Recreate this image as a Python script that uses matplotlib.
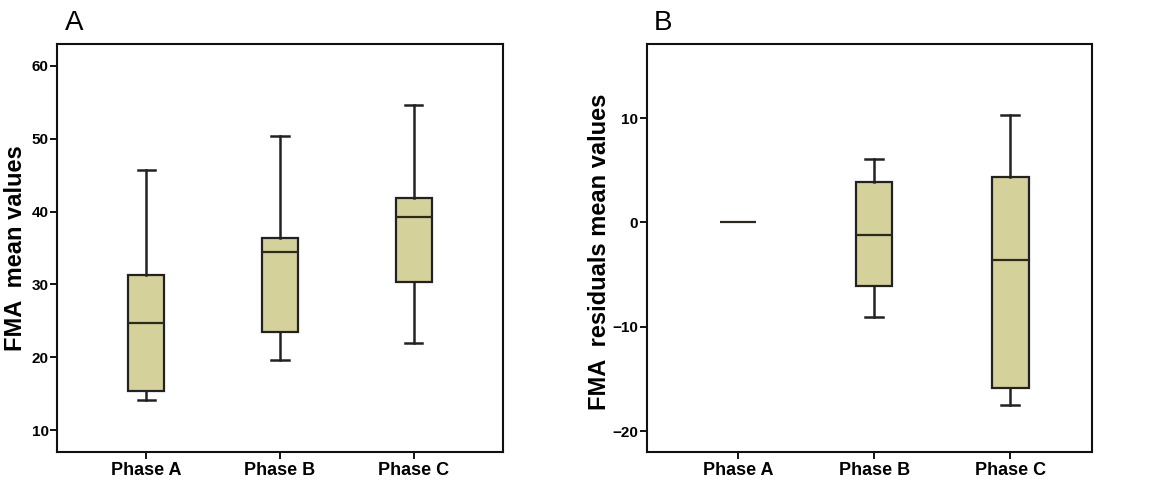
import matplotlib
matplotlib.use("Agg")
import matplotlib.pyplot as plt

plt.rcParams['font.family'] = ['Liberation Sans', 'DejaVu Sans']

phases = ['Phase A', 'Phase B', 'Phase C']

# panel A: FMA mean values (whislo, q1, med, q3, whishi)
fma_low = [14.1, 19.6, 21.9]
fma_q1 = [15.4, 23.5, 30.3]
fma_med = [24.65, 34.5, 39.2]
fma_q3 = [31.3, 36.4, 41.9]
fma_high = [45.7, 50.4, 54.6]

# panel B: FMA residuals mean values
res_low = [0.0, -9.1, -17.5]
res_q1 = [0.0, -6.1, -15.9]
res_med = [0.0, -1.2, -3.6]
res_q3 = [0.0, 3.85, 4.35]
res_high = [0.0, 6.05, 10.3]

box_col = '#d4d19b'
edge_col = '#222222'


def make_stats(lo, q1, med, q3, hi):
    stats = []
    for i in range(len(phases)):
        stats.append(dict(label=phases[i], whislo=lo[i], q1=q1[i], med=med[i],
                          q3=q3[i], whishi=hi[i], fliers=[]))
    return stats


def draw_panel(ax, stats):
    bp = ax.bxp(stats, positions=[1, 2, 3], widths=0.27, patch_artist=True,
                showfliers=False, capwidths=0.13,
                boxprops=dict(facecolor=box_col, edgecolor=edge_col, linewidth=1.6),
                whiskerprops=dict(color=edge_col, linewidth=1.8),
                capprops=dict(color=edge_col, linewidth=1.8),
                medianprops=dict(color='#2b2a1c', linewidth=1.6))
    for s in ax.spines.values():
        s.set_linewidth(1.5)
        s.set_color('#111111')
    ax.tick_params(axis='y', direction='out', length=5, width=1.3,
                   labelsize=11, pad=1)
    ax.tick_params(axis='x', direction='out', length=5, width=1.3,
                   labelsize=13, pad=2)
    return bp


def bold_ticks(ax):
    for lab in ax.get_yticklabels() + ax.get_xticklabels():
        lab.set_fontweight('bold')


fig = plt.figure(figsize=(11.66, 4.8), dpi=100)

axA = fig.add_axes([0.0489, 0.0583, 0.3825, 0.85])
draw_panel(axA, make_stats(fma_low, fma_q1, fma_med, fma_q3, fma_high))
axA.set_ylim(7, 63)
axA.set_xlim(0.333, 3.667)
axA.set_yticks([10, 20, 30, 40, 50, 60])
axA.set_xticklabels(phases)
bold_ticks(axA)
axA.set_ylabel('FMA  mean values', fontsize=17, fontweight='bold')
axA.yaxis.set_label_coords(-0.067, 0.5)
fig.text(0.056, 0.925, 'A', fontsize=20, ha='left', va='bottom')

axB = fig.add_axes([0.5546, 0.0583, 0.3819, 0.85])
bpB = draw_panel(axB, make_stats(res_low, res_q1, res_med, res_q3, res_high))
# phase A has no spread: show only the median line
bpB['whiskers'][0].set_visible(False)
bpB['whiskers'][1].set_visible(False)
bpB['caps'][0].set_visible(False)
bpB['caps'][1].set_visible(False)
bpB['boxes'][0].set_visible(False)
axB.set_ylim(-22, 17.1)
axB.set_xlim(0.33, 3.6)
axB.set_yticks([-20, -10, 0, 10])
axB.set_xticklabels(phases)
bold_ticks(axB)
axB.set_ylabel('FMA  residuals mean values', fontsize=17, fontweight='bold')
axB.yaxis.set_label_coords(-0.079, 0.49)
fig.text(0.561, 0.925, 'B', fontsize=20, ha='left', va='bottom')

fig.savefig('out.png', dpi=100)
